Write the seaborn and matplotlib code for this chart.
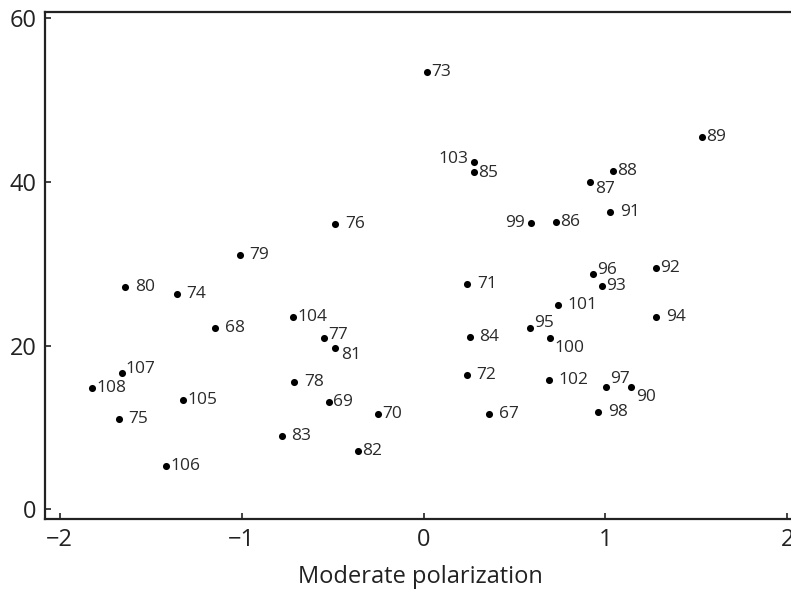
import matplotlib
matplotlib.use("Agg")
import matplotlib.pyplot as plt
import seaborn as sns
import pandas as pd

# Case ids and their scores
case_ids = [73, 89, 103, 85, 88, 87, 91, 99, 86, 76, 79, 96, 92, 93, 71, 80, 74,
            101, 94, 104, 68, 95, 84, 77, 100, 81, 107, 72, 102, 78, 97, 90, 108,
            105, 69, 70, 67, 98, 75, 83, 82, 106]
moderate_polarization = [0.02, 1.53, 0.275, 0.275, 1.04, 0.915, 1.025, 0.59, 0.73,
                         -0.485, -1.01, 0.93, 1.28, 0.98, 0.24, -1.64, -1.355,
                         0.74, 1.28, -0.715, -1.146, 0.584, 0.253, -0.545, 0.694,
                         -0.485, -1.66, 0.237, 0.69, -0.71, 1.003, 1.14, -1.82,
                         -1.32, -0.52, -0.25, 0.36, 0.96, -1.675, -0.78, -0.36, -1.416]
outcome = [53.4, 45.4, 42.4, 41.2, 41.3, 40.0, 36.3, 35.0, 35.1, 34.8, 31.0, 28.7,
           29.5, 27.3, 27.5, 27.1, 26.3, 24.9, 23.5, 23.5, 22.1, 22.2, 21.1, 20.9,
           20.9, 19.7, 16.6, 16.4, 15.8, 15.5, 14.9, 14.9, 14.8, 13.3, 13.1, 11.7,
           11.6, 11.9, 11.0, 8.9, 7.1, 5.3]

x_ticks = [-2, -1, 0, 1, 2]
y_ticks = [0, 20, 40, 60]

# label placement (offset in points, alignment); default is just right of the dot
label_offsets = {
    103: (-4, 2, "right"), 99: (-4, 0, "right"),
    87: (4, -5, "left"), 81: (4, -5, "left"), 100: (3, -7, "left"),
    90: (4, -7, "left"), 97: (3, 6, "left"), 95: (3, 3, "left"),
    77: (3, 2, "left"), 96: (3, 3, "left"), 107: (3, 3, "left"),
    85: (3, -1, "left"),
}
wide_labels = [71, 76, 79, 80, 74, 68, 75, 84, 72, 67, 98, 101, 102, 91, 78, 83, 94]

df = pd.DataFrame({"case": case_ids, "x": moderate_polarization, "y": outcome})

sns.set_style("ticks")
plt.rcParams["font.family"] = ["Open Sans", "DejaVu Sans"]

fig = plt.figure(figsize=(7.91, 6.01), dpi=100)
ax = fig.add_axes([0.057, 0.136, 0.95, 0.844])

sns.scatterplot(data=df, x="x", y="y", ax=ax, color="black", s=26,
                edgecolor="black", linewidth=0, legend=False)

for cid, xv, yv in zip(case_ids, moderate_polarization, outcome):
    if cid in label_offsets:
        dx, dy, ha = label_offsets[cid]
    elif cid in wide_labels:
        dx, dy, ha = 7, 0, "left"
    else:
        dx, dy, ha = 3, 0, "left"
    ax.annotate(str(cid), (xv, yv), xytext=(dx, dy), textcoords="offset points",
                ha=ha, va="center", fontsize=12.5, color="#2a2a2a")

ax.set_xlim(-2.08, 2.05)
ax.set_ylim(-1.2, 60.7)
ax.set_xticks(x_ticks)
ax.set_xticklabels(["\u22122", "\u22121", "0", "1", "2"])
ax.set_yticks(y_ticks)
ax.tick_params(direction="in", length=4, width=1.2, labelsize=17, colors="#222222", pad=6)
ax.set_xlabel("Moderate polarization", fontsize=17, color="#222222", labelpad=10)
ax.set_ylabel("")

for side in ["left", "bottom", "top"]:
    ax.spines[side].set_linewidth(1.6)
    ax.spines[side].set_color("#222222")
ax.spines["right"].set_visible(False)

fig.savefig("out.png", dpi=100)
